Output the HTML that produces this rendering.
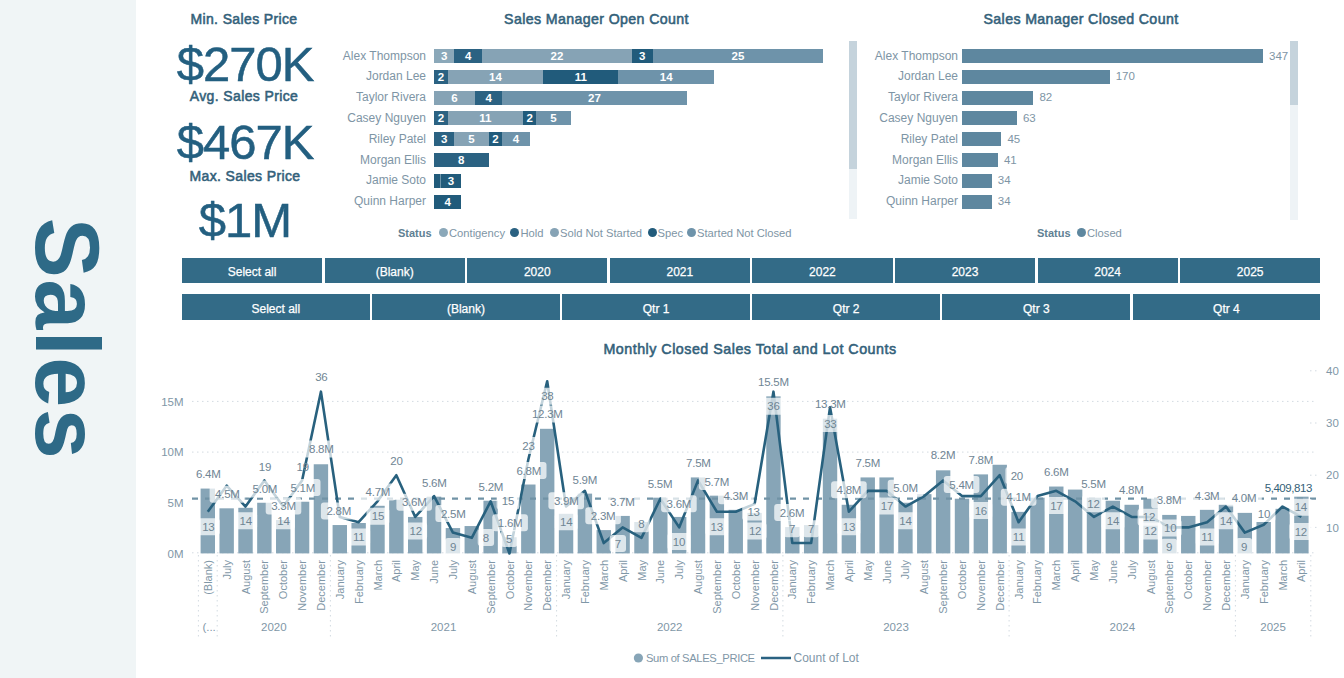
<!DOCTYPE html>
<html><head><meta charset="utf-8"><style>
html,body{margin:0;padding:0;}
body{width:1344px;height:678px;position:relative;overflow:hidden;background:#fff;font-family:'Liberation Sans',sans-serif;}
div{box-sizing:border-box}
</style></head><body>
<div style="position:absolute;left:0;top:0;width:136px;height:678px;background:#f0f5f6"></div><div style="position:absolute;left:17.3px;top:219px;width:100px;height:240px;"><div style="position:absolute;left:50%;top:50%;transform:translate(-50%,-50%) rotate(90deg);font-size:90px;font-weight:bold;color:#2e6a87;letter-spacing:1.5px;line-height:1;white-space:nowrap">Sales</div></div><div style="position:absolute;left:-56px;width:600px;top:12.37px;text-align:center;font-size:14px;color:#33617a;font-weight:normal;white-space:nowrap;line-height:1;letter-spacing:0.37px;-webkit-text-stroke:0.55px #33617a;">Min. Sales Price</div><div style="position:absolute;left:-55px;width:600px;top:40.01px;text-align:center;font-size:49px;color:#235f80;font-weight:normal;white-space:nowrap;line-height:1;letter-spacing:-1px;-webkit-text-stroke:0.5px #235f80;">$270K</div><div style="position:absolute;left:-56px;width:600px;top:89.37px;text-align:center;font-size:14px;color:#33617a;font-weight:normal;white-space:nowrap;line-height:1;letter-spacing:0.37px;-webkit-text-stroke:0.55px #33617a;">Avg. Sales Price</div><div style="position:absolute;left:-55px;width:600px;top:117.61px;text-align:center;font-size:49px;color:#235f80;font-weight:normal;white-space:nowrap;line-height:1;letter-spacing:-1px;-webkit-text-stroke:0.5px #235f80;">$467K</div><div style="position:absolute;left:-55px;width:600px;top:168.67px;text-align:center;font-size:14px;color:#33617a;font-weight:normal;white-space:nowrap;line-height:1;letter-spacing:0.37px;-webkit-text-stroke:0.55px #33617a;">Max. Sales Price</div><div style="position:absolute;left:-55px;width:600px;top:196.01px;text-align:center;font-size:49px;color:#235f80;font-weight:normal;white-space:nowrap;line-height:1;letter-spacing:-1px;-webkit-text-stroke:0.5px #235f80;">$1M</div><div style="position:absolute;left:296.5px;width:600px;top:11.65px;text-align:center;font-size:14.2px;color:#33617a;font-weight:normal;white-space:nowrap;line-height:1;letter-spacing:0.37px;-webkit-text-stroke:0.55px #33617a;">Sales Manager Open Count</div><div style="position:absolute;left:781px;width:600px;top:11.65px;text-align:center;font-size:14.2px;color:#33617a;font-weight:normal;white-space:nowrap;line-height:1;letter-spacing:0.37px;-webkit-text-stroke:0.55px #33617a;">Sales Manager Closed Count</div><div style="position:absolute;left:126px;width:300px;top:48.5px;height:15px;line-height:15px;text-align:right;font-size:12px;color:#7e95a5;white-space:nowrap">Alex Thompson</div><div style="position:absolute;left:434.00px;top:49.0px;width:20.49px;height:14px;background:#8ba8b9;color:#fff;font-size:11.5px;font-weight:bold;text-align:center;line-height:15px">3</div><div style="position:absolute;left:454.49px;top:49.0px;width:27.32px;height:14px;background:#2b6282;color:#fff;font-size:11.5px;font-weight:bold;text-align:center;line-height:15px">4</div><div style="position:absolute;left:481.81px;top:49.0px;width:150.26px;height:14px;background:#86a3b5;color:#fff;font-size:11.5px;font-weight:bold;text-align:center;line-height:15px">22</div><div style="position:absolute;left:632.07px;top:49.0px;width:20.49px;height:14px;background:#215b7b;color:#fff;font-size:11.5px;font-weight:bold;text-align:center;line-height:15px">3</div><div style="position:absolute;left:652.56px;top:49.0px;width:170.75px;height:14px;background:#6e93aa;color:#fff;font-size:11.5px;font-weight:bold;text-align:center;line-height:15px">25</div><div style="position:absolute;left:126px;width:300px;top:69.3px;height:15px;line-height:15px;text-align:right;font-size:12px;color:#7e95a5;white-space:nowrap">Jordan Lee</div><div style="position:absolute;left:434.00px;top:69.8px;width:13.66px;height:14px;background:#2b6282;color:#fff;font-size:11.5px;font-weight:bold;text-align:center;line-height:15px">2</div><div style="position:absolute;left:447.66px;top:69.8px;width:95.62px;height:14px;background:#86a3b5;color:#fff;font-size:11.5px;font-weight:bold;text-align:center;line-height:15px">14</div><div style="position:absolute;left:543.28px;top:69.8px;width:75.13px;height:14px;background:#215b7b;color:#fff;font-size:11.5px;font-weight:bold;text-align:center;line-height:15px">11</div><div style="position:absolute;left:618.41px;top:69.8px;width:95.62px;height:14px;background:#6e93aa;color:#fff;font-size:11.5px;font-weight:bold;text-align:center;line-height:15px">14</div><div style="position:absolute;left:126px;width:300px;top:90.0px;height:15px;line-height:15px;text-align:right;font-size:12px;color:#7e95a5;white-space:nowrap">Taylor Rivera</div><div style="position:absolute;left:434.00px;top:90.5px;width:40.98px;height:14px;background:#86a3b5;color:#fff;font-size:11.5px;font-weight:bold;text-align:center;line-height:15px">6</div><div style="position:absolute;left:474.98px;top:90.5px;width:27.32px;height:14px;background:#2b6282;color:#fff;font-size:11.5px;font-weight:bold;text-align:center;line-height:15px">4</div><div style="position:absolute;left:502.30px;top:90.5px;width:184.41px;height:14px;background:#6e93aa;color:#fff;font-size:11.5px;font-weight:bold;text-align:center;line-height:15px">27</div><div style="position:absolute;left:126px;width:300px;top:110.8px;height:15px;line-height:15px;text-align:right;font-size:12px;color:#7e95a5;white-space:nowrap">Casey Nguyen</div><div style="position:absolute;left:434.00px;top:111.3px;width:13.66px;height:14px;background:#2b6282;color:#fff;font-size:11.5px;font-weight:bold;text-align:center;line-height:15px">2</div><div style="position:absolute;left:447.66px;top:111.3px;width:75.13px;height:14px;background:#86a3b5;color:#fff;font-size:11.5px;font-weight:bold;text-align:center;line-height:15px">11</div><div style="position:absolute;left:522.79px;top:111.3px;width:13.66px;height:14px;background:#215b7b;color:#fff;font-size:11.5px;font-weight:bold;text-align:center;line-height:15px">2</div><div style="position:absolute;left:536.45px;top:111.3px;width:34.15px;height:14px;background:#6e93aa;color:#fff;font-size:11.5px;font-weight:bold;text-align:center;line-height:15px">5</div><div style="position:absolute;left:126px;width:300px;top:131.7px;height:15px;line-height:15px;text-align:right;font-size:12px;color:#7e95a5;white-space:nowrap">Riley Patel</div><div style="position:absolute;left:434.00px;top:132.2px;width:20.49px;height:14px;background:#2b6282;color:#fff;font-size:11.5px;font-weight:bold;text-align:center;line-height:15px">3</div><div style="position:absolute;left:454.49px;top:132.2px;width:34.15px;height:14px;background:#86a3b5;color:#fff;font-size:11.5px;font-weight:bold;text-align:center;line-height:15px">5</div><div style="position:absolute;left:488.64px;top:132.2px;width:13.66px;height:14px;background:#215b7b;color:#fff;font-size:11.5px;font-weight:bold;text-align:center;line-height:15px">2</div><div style="position:absolute;left:502.30px;top:132.2px;width:27.32px;height:14px;background:#6e93aa;color:#fff;font-size:11.5px;font-weight:bold;text-align:center;line-height:15px">4</div><div style="position:absolute;left:126px;width:300px;top:152.6px;height:15px;line-height:15px;text-align:right;font-size:12px;color:#7e95a5;white-space:nowrap">Morgan Ellis</div><div style="position:absolute;left:434.00px;top:153.1px;width:54.64px;height:14px;background:#2b6282;color:#fff;font-size:11.5px;font-weight:bold;text-align:center;line-height:15px">8</div><div style="position:absolute;left:126px;width:300px;top:173.4px;height:15px;line-height:15px;text-align:right;font-size:12px;color:#7e95a5;white-space:nowrap">Jamie Soto</div><div style="position:absolute;left:434.00px;top:173.9px;width:6.83px;height:14px;background:#215b7b;color:#fff;font-size:11.5px;font-weight:bold;text-align:center;line-height:15px"></div><div style="position:absolute;left:440.83px;top:173.9px;width:20.49px;height:14px;background:#215b7b;color:#fff;font-size:11.5px;font-weight:bold;text-align:center;line-height:15px">3</div><div style="position:absolute;left:440.33px;top:173.9px;width:1px;height:14px;background:#6d95ab"></div><div style="position:absolute;left:126px;width:300px;top:194.2px;height:15px;line-height:15px;text-align:right;font-size:12px;color:#7e95a5;white-space:nowrap">Quinn Harper</div><div style="position:absolute;left:434.00px;top:194.7px;width:27.32px;height:14px;background:#215b7b;color:#fff;font-size:11.5px;font-weight:bold;text-align:center;line-height:15px">4</div><div style="position:absolute;left:398px;top:225.7px;height:14px;line-height:14px;font-size:11px;color:#5f7f93;font-weight:bold;white-space:nowrap">Status</div><div style="position:absolute;left:439px;top:228.2px;width:9px;height:9px;border-radius:50%;background:#8ba8b9"></div><div style="position:absolute;left:449px;top:225.7px;height:14px;line-height:14px;font-size:11.2px;color:#7e95a5;font-weight:normal;white-space:nowrap">Contigency</div><div style="position:absolute;left:510px;top:228.2px;width:9px;height:9px;border-radius:50%;background:#2b6282"></div><div style="position:absolute;left:520.5px;top:225.7px;height:14px;line-height:14px;font-size:11.2px;color:#7e95a5;font-weight:normal;white-space:nowrap">Hold</div><div style="position:absolute;left:549.5px;top:228.2px;width:9px;height:9px;border-radius:50%;background:#86a3b5"></div><div style="position:absolute;left:560px;top:225.7px;height:14px;line-height:14px;font-size:11.2px;color:#7e95a5;font-weight:normal;white-space:nowrap">Sold Not Started</div><div style="position:absolute;left:647.5px;top:228.2px;width:9px;height:9px;border-radius:50%;background:#215b7b"></div><div style="position:absolute;left:657.5px;top:225.7px;height:14px;line-height:14px;font-size:11.2px;color:#7e95a5;font-weight:normal;white-space:nowrap">Spec</div><div style="position:absolute;left:686.5px;top:228.2px;width:9px;height:9px;border-radius:50%;background:#6e93aa"></div><div style="position:absolute;left:697px;top:225.7px;height:14px;line-height:14px;font-size:11.2px;color:#7e95a5;font-weight:normal;white-space:nowrap">Started Not Closed</div><div style="position:absolute;left:849px;top:41px;width:8px;height:178px;background:#eef3f6"></div><div style="position:absolute;left:849px;top:41px;width:8px;height:128px;background:#c5d3dc"></div><div style="position:absolute;left:658px;width:300px;top:48.5px;height:15px;line-height:15px;text-align:right;font-size:12px;color:#7e95a5;white-space:nowrap">Alex Thompson</div><div style="position:absolute;left:962.4px;top:49.0px;width:300.61px;height:14px;background:#5e879f"></div><div style="position:absolute;left:1269.01px;top:48.5px;height:15px;line-height:15px;font-size:11.5px;color:#7e95a5;white-space:nowrap">347</div><div style="position:absolute;left:658px;width:300px;top:69.3px;height:15px;line-height:15px;text-align:right;font-size:12px;color:#7e95a5;white-space:nowrap">Jordan Lee</div><div style="position:absolute;left:962.4px;top:69.8px;width:147.27px;height:14px;background:#5e879f"></div><div style="position:absolute;left:1115.67px;top:69.3px;height:15px;line-height:15px;font-size:11.5px;color:#7e95a5;white-space:nowrap">170</div><div style="position:absolute;left:658px;width:300px;top:90.0px;height:15px;line-height:15px;text-align:right;font-size:12px;color:#7e95a5;white-space:nowrap">Taylor Rivera</div><div style="position:absolute;left:962.4px;top:90.5px;width:71.04px;height:14px;background:#5e879f"></div><div style="position:absolute;left:1039.44px;top:90.0px;height:15px;line-height:15px;font-size:11.5px;color:#7e95a5;white-space:nowrap">82</div><div style="position:absolute;left:658px;width:300px;top:110.8px;height:15px;line-height:15px;text-align:right;font-size:12px;color:#7e95a5;white-space:nowrap">Casey Nguyen</div><div style="position:absolute;left:962.4px;top:111.3px;width:54.58px;height:14px;background:#5e879f"></div><div style="position:absolute;left:1022.98px;top:110.8px;height:15px;line-height:15px;font-size:11.5px;color:#7e95a5;white-space:nowrap">63</div><div style="position:absolute;left:658px;width:300px;top:131.7px;height:15px;line-height:15px;text-align:right;font-size:12px;color:#7e95a5;white-space:nowrap">Riley Patel</div><div style="position:absolute;left:962.4px;top:132.2px;width:38.98px;height:14px;background:#5e879f"></div><div style="position:absolute;left:1007.38px;top:131.7px;height:15px;line-height:15px;font-size:11.5px;color:#7e95a5;white-space:nowrap">45</div><div style="position:absolute;left:658px;width:300px;top:152.6px;height:15px;line-height:15px;text-align:right;font-size:12px;color:#7e95a5;white-space:nowrap">Morgan Ellis</div><div style="position:absolute;left:962.4px;top:153.1px;width:35.52px;height:14px;background:#5e879f"></div><div style="position:absolute;left:1003.92px;top:152.6px;height:15px;line-height:15px;font-size:11.5px;color:#7e95a5;white-space:nowrap">41</div><div style="position:absolute;left:658px;width:300px;top:173.4px;height:15px;line-height:15px;text-align:right;font-size:12px;color:#7e95a5;white-space:nowrap">Jamie Soto</div><div style="position:absolute;left:962.4px;top:173.9px;width:29.45px;height:14px;background:#5e879f"></div><div style="position:absolute;left:997.85px;top:173.4px;height:15px;line-height:15px;font-size:11.5px;color:#7e95a5;white-space:nowrap">34</div><div style="position:absolute;left:658px;width:300px;top:194.2px;height:15px;line-height:15px;text-align:right;font-size:12px;color:#7e95a5;white-space:nowrap">Quinn Harper</div><div style="position:absolute;left:962.4px;top:194.7px;width:29.45px;height:14px;background:#5e879f"></div><div style="position:absolute;left:997.85px;top:194.2px;height:15px;line-height:15px;font-size:11.5px;color:#7e95a5;white-space:nowrap">34</div><div style="position:absolute;left:1290px;top:41px;width:8px;height:179px;background:#eef3f6"></div><div style="position:absolute;left:1290px;top:41px;width:8px;height:64px;background:#c5d3dc"></div><div style="position:absolute;left:1037px;top:225.7px;height:14px;line-height:14px;font-size:11px;color:#5f7f93;font-weight:bold;white-space:nowrap">Status</div><div style="position:absolute;left:1077px;top:228.2px;width:9px;height:9px;border-radius:50%;background:#5e879f"></div><div style="position:absolute;left:1087px;top:225.7px;height:14px;line-height:14px;font-size:11.2px;color:#7e95a5;font-weight:normal;white-space:nowrap">Closed</div><div style="position:absolute;left:182.00px;top:258.2px;width:140.19px;height:24.8px;background:#336b87;color:#fff;font-size:12px;text-align:center;line-height:24.8px;padding-top:2.2px;white-space:nowrap;-webkit-text-stroke:0.25px #fff">Select all</div><div style="position:absolute;left:324.59px;top:258.2px;width:140.19px;height:24.8px;background:#336b87;color:#fff;font-size:12px;text-align:center;line-height:24.8px;padding-top:2.2px;white-space:nowrap;-webkit-text-stroke:0.25px #fff">(Blank)</div><div style="position:absolute;left:467.18px;top:258.2px;width:140.19px;height:24.8px;background:#336b87;color:#fff;font-size:12px;text-align:center;line-height:24.8px;padding-top:2.2px;white-space:nowrap;-webkit-text-stroke:0.25px #fff">2020</div><div style="position:absolute;left:609.76px;top:258.2px;width:140.19px;height:24.8px;background:#336b87;color:#fff;font-size:12px;text-align:center;line-height:24.8px;padding-top:2.2px;white-space:nowrap;-webkit-text-stroke:0.25px #fff">2021</div><div style="position:absolute;left:752.35px;top:258.2px;width:140.19px;height:24.8px;background:#336b87;color:#fff;font-size:12px;text-align:center;line-height:24.8px;padding-top:2.2px;white-space:nowrap;-webkit-text-stroke:0.25px #fff">2022</div><div style="position:absolute;left:894.94px;top:258.2px;width:140.19px;height:24.8px;background:#336b87;color:#fff;font-size:12px;text-align:center;line-height:24.8px;padding-top:2.2px;white-space:nowrap;-webkit-text-stroke:0.25px #fff">2023</div><div style="position:absolute;left:1037.53px;top:258.2px;width:140.19px;height:24.8px;background:#336b87;color:#fff;font-size:12px;text-align:center;line-height:24.8px;padding-top:2.2px;white-space:nowrap;-webkit-text-stroke:0.25px #fff">2024</div><div style="position:absolute;left:1180.11px;top:258.2px;width:140.19px;height:24.8px;background:#336b87;color:#fff;font-size:12px;text-align:center;line-height:24.8px;padding-top:2.2px;white-space:nowrap;-webkit-text-stroke:0.25px #fff">2025</div><div style="position:absolute;left:182.00px;top:294px;width:187.72px;height:25.6px;background:#336b87;color:#fff;font-size:12px;text-align:center;line-height:25.6px;padding-top:2.8px;white-space:nowrap;-webkit-text-stroke:0.25px #fff">Select all</div><div style="position:absolute;left:372.12px;top:294px;width:187.72px;height:25.6px;background:#336b87;color:#fff;font-size:12px;text-align:center;line-height:25.6px;padding-top:2.8px;white-space:nowrap;-webkit-text-stroke:0.25px #fff">(Blank)</div><div style="position:absolute;left:562.23px;top:294px;width:187.72px;height:25.6px;background:#336b87;color:#fff;font-size:12px;text-align:center;line-height:25.6px;padding-top:2.8px;white-space:nowrap;-webkit-text-stroke:0.25px #fff">Qtr 1</div><div style="position:absolute;left:752.35px;top:294px;width:187.72px;height:25.6px;background:#336b87;color:#fff;font-size:12px;text-align:center;line-height:25.6px;padding-top:2.8px;white-space:nowrap;-webkit-text-stroke:0.25px #fff">Qtr 2</div><div style="position:absolute;left:942.47px;top:294px;width:187.72px;height:25.6px;background:#336b87;color:#fff;font-size:12px;text-align:center;line-height:25.6px;padding-top:2.8px;white-space:nowrap;-webkit-text-stroke:0.25px #fff">Qtr 3</div><div style="position:absolute;left:1132.58px;top:294px;width:187.72px;height:25.6px;background:#336b87;color:#fff;font-size:12px;text-align:center;line-height:25.6px;padding-top:2.8px;white-space:nowrap;-webkit-text-stroke:0.25px #fff">Qtr 4</div><div style="position:absolute;left:450px;width:600px;top:341.73px;text-align:center;font-size:14.3px;color:#33617a;font-weight:normal;white-space:nowrap;line-height:1;letter-spacing:0.49px;-webkit-text-stroke:0.55px #33617a;">Monthly Closed Sales Total and Lot Counts</div><svg style="position:absolute;left:0;top:0" width="1344" height="678" font-family="Liberation Sans, sans-serif"><line x1="192" y1="401.4" x2="1316" y2="401.4" stroke="#d3dbe1" stroke-width="1" stroke-dasharray="1.5 3.5"/><line x1="192" y1="452.1" x2="1316" y2="452.1" stroke="#d3dbe1" stroke-width="1" stroke-dasharray="1.5 3.5"/><line x1="192" y1="552.8" x2="1316" y2="552.8" stroke="#d3dbe1" stroke-width="1" stroke-dasharray="1.5 3.5"/><line x1="1310" y1="370.8" x2="1320" y2="370.8" stroke="#d3dbe1" stroke-width="1" stroke-dasharray="1.5 3.5"/><line x1="1310" y1="423.0" x2="1320" y2="423.0" stroke="#d3dbe1" stroke-width="1" stroke-dasharray="1.5 3.5"/><line x1="1310" y1="475.2" x2="1320" y2="475.2" stroke="#d3dbe1" stroke-width="1" stroke-dasharray="1.5 3.5"/><line x1="1310" y1="527.4" x2="1320" y2="527.4" stroke="#d3dbe1" stroke-width="1" stroke-dasharray="1.5 3.5"/><rect x="200.60" y="488.57" width="14.4" height="64.83" fill="#87a5b7"/><rect x="219.46" y="508.32" width="14.4" height="45.08" fill="#87a5b7"/><rect x="238.31" y="507.81" width="14.4" height="45.59" fill="#87a5b7"/><rect x="257.17" y="502.75" width="14.4" height="50.65" fill="#87a5b7"/><rect x="276.02" y="519.97" width="14.4" height="33.43" fill="#87a5b7"/><rect x="294.88" y="501.74" width="14.4" height="51.66" fill="#87a5b7"/><rect x="313.73" y="464.26" width="14.4" height="89.14" fill="#87a5b7"/><rect x="332.59" y="525.04" width="14.4" height="28.36" fill="#87a5b7"/><rect x="351.44" y="523.01" width="14.4" height="30.39" fill="#87a5b7"/><rect x="370.30" y="505.79" width="14.4" height="47.61" fill="#87a5b7"/><rect x="389.15" y="499.71" width="14.4" height="53.69" fill="#87a5b7"/><rect x="408.01" y="516.93" width="14.4" height="36.47" fill="#87a5b7"/><rect x="426.86" y="496.67" width="14.4" height="56.73" fill="#87a5b7"/><rect x="445.72" y="528.07" width="14.4" height="25.33" fill="#87a5b7"/><rect x="464.57" y="526.05" width="14.4" height="27.35" fill="#87a5b7"/><rect x="483.43" y="500.72" width="14.4" height="52.68" fill="#87a5b7"/><rect x="502.28" y="537.19" width="14.4" height="16.21" fill="#87a5b7"/><rect x="521.13" y="484.52" width="14.4" height="68.88" fill="#87a5b7"/><rect x="539.99" y="428.80" width="14.4" height="124.60" fill="#87a5b7"/><rect x="558.85" y="513.89" width="14.4" height="39.51" fill="#87a5b7"/><rect x="577.70" y="493.63" width="14.4" height="59.77" fill="#87a5b7"/><rect x="596.55" y="530.10" width="14.4" height="23.30" fill="#87a5b7"/><rect x="615.41" y="515.92" width="14.4" height="37.48" fill="#87a5b7"/><rect x="634.26" y="522.00" width="14.4" height="31.40" fill="#87a5b7"/><rect x="653.12" y="497.68" width="14.4" height="55.72" fill="#87a5b7"/><rect x="671.97" y="516.93" width="14.4" height="36.47" fill="#87a5b7"/><rect x="690.83" y="477.42" width="14.4" height="75.98" fill="#87a5b7"/><rect x="709.68" y="495.66" width="14.4" height="57.74" fill="#87a5b7"/><rect x="728.54" y="509.84" width="14.4" height="43.56" fill="#87a5b7"/><rect x="747.39" y="512.88" width="14.4" height="40.52" fill="#87a5b7"/><rect x="766.25" y="396.38" width="14.4" height="157.02" fill="#87a5b7"/><rect x="785.11" y="527.06" width="14.4" height="26.34" fill="#87a5b7"/><rect x="803.96" y="525.04" width="14.4" height="28.36" fill="#87a5b7"/><rect x="822.82" y="418.67" width="14.4" height="134.73" fill="#87a5b7"/><rect x="841.67" y="504.78" width="14.4" height="48.62" fill="#87a5b7"/><rect x="860.53" y="477.42" width="14.4" height="75.98" fill="#87a5b7"/><rect x="879.38" y="477.42" width="14.4" height="75.98" fill="#87a5b7"/><rect x="898.23" y="502.75" width="14.4" height="50.65" fill="#87a5b7"/><rect x="917.09" y="494.14" width="14.4" height="59.26" fill="#87a5b7"/><rect x="935.94" y="470.33" width="14.4" height="83.07" fill="#87a5b7"/><rect x="954.80" y="498.70" width="14.4" height="54.70" fill="#87a5b7"/><rect x="973.65" y="474.39" width="14.4" height="79.01" fill="#87a5b7"/><rect x="992.51" y="464.76" width="14.4" height="88.64" fill="#87a5b7"/><rect x="1011.37" y="511.87" width="14.4" height="41.53" fill="#87a5b7"/><rect x="1030.22" y="497.68" width="14.4" height="55.72" fill="#87a5b7"/><rect x="1049.08" y="486.54" width="14.4" height="66.86" fill="#87a5b7"/><rect x="1067.93" y="489.58" width="14.4" height="63.82" fill="#87a5b7"/><rect x="1086.79" y="497.68" width="14.4" height="55.72" fill="#87a5b7"/><rect x="1105.64" y="500.72" width="14.4" height="52.68" fill="#87a5b7"/><rect x="1124.49" y="504.78" width="14.4" height="48.62" fill="#87a5b7"/><rect x="1143.35" y="498.70" width="14.4" height="54.70" fill="#87a5b7"/><rect x="1162.20" y="514.91" width="14.4" height="38.49" fill="#87a5b7"/><rect x="1181.06" y="515.92" width="14.4" height="37.48" fill="#87a5b7"/><rect x="1199.91" y="509.84" width="14.4" height="43.56" fill="#87a5b7"/><rect x="1218.77" y="504.78" width="14.4" height="48.62" fill="#87a5b7"/><rect x="1237.62" y="512.88" width="14.4" height="40.52" fill="#87a5b7"/><rect x="1256.48" y="522.00" width="14.4" height="31.40" fill="#87a5b7"/><rect x="1275.34" y="508.83" width="14.4" height="44.57" fill="#87a5b7"/><rect x="1294.19" y="496.67" width="14.4" height="56.73" fill="#87a5b7"/><line x1="192" y1="498.6" x2="1316" y2="498.6" stroke="#7193a6" stroke-width="2.3" stroke-dasharray="6 7"/><polyline points="207.80,511.74 226.66,485.64 245.51,506.52 264.37,480.42 283.22,506.52 302.08,480.42 320.93,391.68 339.79,516.96 358.64,522.18 377.50,501.30 396.35,475.20 415.21,516.96 434.06,496.08 452.92,532.62 471.77,537.84 490.62,501.30 509.48,553.50 528.34,459.54 547.19,381.24 566.05,506.52 584.90,490.86 603.75,543.06 622.61,527.40 641.47,537.84 660.32,498.69 679.17,527.40 698.03,480.42 716.88,511.74 735.74,511.74 754.60,503.91 773.45,391.68 792.31,543.06 811.16,543.06 830.02,407.34 848.87,511.74 867.73,490.86 886.58,490.86 905.43,506.52 924.29,496.08 943.14,480.42 962.00,496.08 980.86,496.08 999.71,475.20 1018.57,522.18 1037.42,496.08 1056.28,490.86 1075.13,501.30 1093.99,516.96 1112.84,506.52 1131.69,516.96 1150.55,516.96 1169.40,527.40 1188.26,527.40 1207.12,522.18 1225.97,506.52 1244.83,532.62 1263.68,524.79 1282.54,506.52 1301.39,516.96" fill="none" stroke="#28617e" stroke-width="2.6" stroke-linejoin="round"/><rect x="209.6" y="485.7" width="35.6" height="17" rx="3" fill="#ffffff" fill-opacity="0.72"/><rect x="247.1" y="480.4" width="35.6" height="17" rx="3" fill="#ffffff" fill-opacity="0.72"/><rect x="265.7" y="497.5" width="35.6" height="17" rx="3" fill="#ffffff" fill-opacity="0.72"/><rect x="284.9" y="478.9" width="35.6" height="17" rx="3" fill="#ffffff" fill-opacity="0.72"/><rect x="303.5" y="440.6" width="35.6" height="17" rx="3" fill="#ffffff" fill-opacity="0.72"/><rect x="320.9" y="502.5" width="35.6" height="17" rx="3" fill="#ffffff" fill-opacity="0.72"/><rect x="196.9" y="518.2" width="22.8" height="17" rx="3" fill="#ffffff" fill-opacity="0.72"/><rect x="234.3" y="512.3" width="22.8" height="17" rx="3" fill="#ffffff" fill-opacity="0.72"/><rect x="272.1" y="512.3" width="22.8" height="17" rx="3" fill="#ffffff" fill-opacity="0.72"/><rect x="347.3" y="528.5" width="22.8" height="17" rx="3" fill="#ffffff" fill-opacity="0.72"/><rect x="360.1" y="483.4" width="35.6" height="17" rx="3" fill="#ffffff" fill-opacity="0.72"/><rect x="366.5" y="507.8" width="22.8" height="17" rx="3" fill="#ffffff" fill-opacity="0.72"/><rect x="396.4" y="493.7" width="35.6" height="17" rx="3" fill="#ffffff" fill-opacity="0.72"/><rect x="404.3" y="522.6" width="22.8" height="17" rx="3" fill="#ffffff" fill-opacity="0.72"/><rect x="435.4" y="504.9" width="35.6" height="17" rx="3" fill="#ffffff" fill-opacity="0.72"/><rect x="445.0" y="537.9" width="16.4" height="17" rx="3" fill="#ffffff" fill-opacity="0.72"/><rect x="496.6" y="492.5" width="22.8" height="17" rx="3" fill="#ffffff" fill-opacity="0.72"/><rect x="477.7" y="529.1" width="16.4" height="17" rx="3" fill="#ffffff" fill-opacity="0.72"/><rect x="492.3" y="514.3" width="35.6" height="17" rx="3" fill="#ffffff" fill-opacity="0.72"/><rect x="501.0" y="530.0" width="16.4" height="17" rx="3" fill="#ffffff" fill-opacity="0.72"/><rect x="510.9" y="462.1" width="35.6" height="17" rx="3" fill="#ffffff" fill-opacity="0.72"/><rect x="517.0" y="437.0" width="22.8" height="17" rx="3" fill="#ffffff" fill-opacity="0.72"/><rect x="535.9" y="387.8" width="22.8" height="17" rx="3" fill="#ffffff" fill-opacity="0.72"/><rect x="526.3" y="405.5" width="42.0" height="17" rx="3" fill="#ffffff" fill-opacity="0.72"/><rect x="548.4" y="492.2" width="35.6" height="17" rx="3" fill="#ffffff" fill-opacity="0.72"/><rect x="554.8" y="513.2" width="22.8" height="17" rx="3" fill="#ffffff" fill-opacity="0.72"/><rect x="585.3" y="507.3" width="35.6" height="17" rx="3" fill="#ffffff" fill-opacity="0.72"/><rect x="604.5" y="493.1" width="35.6" height="17" rx="3" fill="#ffffff" fill-opacity="0.72"/><rect x="609.6" y="535.0" width="16.4" height="17" rx="3" fill="#ffffff" fill-opacity="0.72"/><rect x="633.2" y="515.2" width="16.4" height="17" rx="3" fill="#ffffff" fill-opacity="0.72"/><rect x="661.1" y="495.2" width="35.6" height="17" rx="3" fill="#ffffff" fill-opacity="0.72"/><rect x="667.5" y="532.9" width="22.8" height="17" rx="3" fill="#ffffff" fill-opacity="0.72"/><rect x="698.9" y="473.0" width="35.6" height="17" rx="3" fill="#ffffff" fill-opacity="0.72"/><rect x="705.3" y="518.2" width="22.8" height="17" rx="3" fill="#ffffff" fill-opacity="0.72"/><rect x="718.0" y="487.2" width="35.6" height="17" rx="3" fill="#ffffff" fill-opacity="0.72"/><rect x="742.2" y="503.4" width="22.8" height="17" rx="3" fill="#ffffff" fill-opacity="0.72"/><rect x="743.7" y="522.6" width="22.8" height="17" rx="3" fill="#ffffff" fill-opacity="0.72"/><rect x="762.0" y="397.8" width="22.8" height="17" rx="3" fill="#ffffff" fill-opacity="0.72"/><rect x="774.2" y="504.0" width="35.6" height="17" rx="3" fill="#ffffff" fill-opacity="0.72"/><rect x="783.8" y="520.2" width="16.4" height="17" rx="3" fill="#ffffff" fill-opacity="0.72"/><rect x="802.9" y="520.2" width="16.4" height="17" rx="3" fill="#ffffff" fill-opacity="0.72"/><rect x="818.9" y="414.9" width="22.8" height="17" rx="3" fill="#ffffff" fill-opacity="0.72"/><rect x="831.1" y="481.3" width="35.6" height="17" rx="3" fill="#ffffff" fill-opacity="0.72"/><rect x="837.5" y="518.2" width="22.8" height="17" rx="3" fill="#ffffff" fill-opacity="0.72"/><rect x="875.5" y="497.5" width="22.8" height="17" rx="3" fill="#ffffff" fill-opacity="0.72"/><rect x="887.7" y="479.8" width="35.6" height="17" rx="3" fill="#ffffff" fill-opacity="0.72"/><rect x="894.1" y="512.3" width="22.8" height="17" rx="3" fill="#ffffff" fill-opacity="0.72"/><rect x="943.8" y="476.0" width="35.6" height="17" rx="3" fill="#ffffff" fill-opacity="0.72"/><rect x="969.4" y="501.9" width="22.8" height="17" rx="3" fill="#ffffff" fill-opacity="0.72"/><rect x="1005.4" y="467.1" width="22.8" height="17" rx="3" fill="#ffffff" fill-opacity="0.72"/><rect x="1000.8" y="488.7" width="35.6" height="17" rx="3" fill="#ffffff" fill-opacity="0.72"/><rect x="1007.2" y="528.5" width="22.8" height="17" rx="3" fill="#ffffff" fill-opacity="0.72"/><rect x="1044.9" y="496.9" width="22.8" height="17" rx="3" fill="#ffffff" fill-opacity="0.72"/><rect x="1082.1" y="495.2" width="22.8" height="17" rx="3" fill="#ffffff" fill-opacity="0.72"/><rect x="1101.6" y="512.3" width="22.8" height="17" rx="3" fill="#ffffff" fill-opacity="0.72"/><rect x="1137.6" y="508.7" width="22.8" height="17" rx="3" fill="#ffffff" fill-opacity="0.72"/><rect x="1139.1" y="522.6" width="22.8" height="17" rx="3" fill="#ffffff" fill-opacity="0.72"/><rect x="1151.2" y="491.6" width="35.6" height="17" rx="3" fill="#ffffff" fill-opacity="0.72"/><rect x="1158.8" y="519.6" width="22.8" height="17" rx="3" fill="#ffffff" fill-opacity="0.72"/><rect x="1160.8" y="538.8" width="16.4" height="17" rx="3" fill="#ffffff" fill-opacity="0.72"/><rect x="1195.7" y="528.5" width="22.8" height="17" rx="3" fill="#ffffff" fill-opacity="0.72"/><rect x="1189.3" y="487.2" width="35.6" height="17" rx="3" fill="#ffffff" fill-opacity="0.72"/><rect x="1214.6" y="512.3" width="22.8" height="17" rx="3" fill="#ffffff" fill-opacity="0.72"/><rect x="1226.2" y="489.6" width="35.6" height="17" rx="3" fill="#ffffff" fill-opacity="0.72"/><rect x="1235.8" y="537.9" width="16.4" height="17" rx="3" fill="#ffffff" fill-opacity="0.72"/><rect x="1252.6" y="504.9" width="22.8" height="17" rx="3" fill="#ffffff" fill-opacity="0.72"/><rect x="1289.4" y="498.7" width="22.8" height="17" rx="3" fill="#ffffff" fill-opacity="0.72"/><rect x="1289.4" y="523.0" width="22.8" height="17" rx="3" fill="#ffffff" fill-opacity="0.72"/><text x="208.3" y="477.7" text-anchor="middle" font-size="11.5" fill="#6f8594" letter-spacing="-0.25">6.4M</text><text x="227.4" y="498.3" text-anchor="middle" font-size="11.5" fill="#6f8594" letter-spacing="-0.25">4.5M</text><text x="264.9" y="470.9" text-anchor="middle" font-size="11.5" fill="#6f8594" letter-spacing="-0.25">19</text><text x="264.9" y="493.0" text-anchor="middle" font-size="11.5" fill="#6f8594" letter-spacing="-0.25">5.0M</text><text x="283.5" y="510.1" text-anchor="middle" font-size="11.5" fill="#6f8594" letter-spacing="-0.25">3.3M</text><text x="302.7" y="470.9" text-anchor="middle" font-size="11.5" fill="#6f8594" letter-spacing="-0.25">19</text><text x="302.7" y="491.5" text-anchor="middle" font-size="11.5" fill="#6f8594" letter-spacing="-0.25">5.1M</text><text x="321.3" y="381.2" text-anchor="middle" font-size="11.5" fill="#6f8594" letter-spacing="-0.25">36</text><text x="321.3" y="453.2" text-anchor="middle" font-size="11.5" fill="#6f8594" letter-spacing="-0.25">8.8M</text><text x="338.7" y="515.1" text-anchor="middle" font-size="11.5" fill="#6f8594" letter-spacing="-0.25">2.8M</text><text x="208.3" y="530.8" text-anchor="middle" font-size="11.5" fill="#6f8594" letter-spacing="-0.25">13</text><text x="245.7" y="524.9" text-anchor="middle" font-size="11.5" fill="#6f8594" letter-spacing="-0.25">14</text><text x="283.5" y="524.9" text-anchor="middle" font-size="11.5" fill="#6f8594" letter-spacing="-0.25">14</text><text x="358.7" y="541.1" text-anchor="middle" font-size="11.5" fill="#6f8594" letter-spacing="-0.25">11</text><text x="377.9" y="496.0" text-anchor="middle" font-size="11.5" fill="#6f8594" letter-spacing="-0.25">4.7M</text><text x="377.9" y="520.4" text-anchor="middle" font-size="11.5" fill="#6f8594" letter-spacing="-0.25">15</text><text x="396.5" y="465.0" text-anchor="middle" font-size="11.5" fill="#6f8594" letter-spacing="-0.25">20</text><text x="414.2" y="506.3" text-anchor="middle" font-size="11.5" fill="#6f8594" letter-spacing="-0.25">3.6M</text><text x="415.7" y="535.2" text-anchor="middle" font-size="11.5" fill="#6f8594" letter-spacing="-0.25">12</text><text x="434.3" y="486.5" text-anchor="middle" font-size="11.5" fill="#6f8594" letter-spacing="-0.25">5.6M</text><text x="453.2" y="517.5" text-anchor="middle" font-size="11.5" fill="#6f8594" letter-spacing="-0.25">2.5M</text><text x="453.2" y="550.5" text-anchor="middle" font-size="11.5" fill="#6f8594" letter-spacing="-0.25">9</text><text x="490.9" y="490.9" text-anchor="middle" font-size="11.5" fill="#6f8594" letter-spacing="-0.25">5.2M</text><text x="508.0" y="505.1" text-anchor="middle" font-size="11.5" fill="#6f8594" letter-spacing="-0.25">15</text><text x="485.9" y="541.7" text-anchor="middle" font-size="11.5" fill="#6f8594" letter-spacing="-0.25">8</text><text x="510.1" y="526.9" text-anchor="middle" font-size="11.5" fill="#6f8594" letter-spacing="-0.25">1.6M</text><text x="509.2" y="542.6" text-anchor="middle" font-size="11.5" fill="#6f8594" letter-spacing="-0.25">5</text><text x="528.7" y="474.7" text-anchor="middle" font-size="11.5" fill="#6f8594" letter-spacing="-0.25">6.8M</text><text x="528.4" y="449.6" text-anchor="middle" font-size="11.5" fill="#6f8594" letter-spacing="-0.25">23</text><text x="547.3" y="400.4" text-anchor="middle" font-size="11.5" fill="#6f8594" letter-spacing="-0.25">38</text><text x="547.3" y="418.1" text-anchor="middle" font-size="11.5" fill="#6f8594" letter-spacing="-0.25">12.3M</text><text x="566.2" y="504.8" text-anchor="middle" font-size="11.5" fill="#6f8594" letter-spacing="-0.25">3.9M</text><text x="566.2" y="525.8" text-anchor="middle" font-size="11.5" fill="#6f8594" letter-spacing="-0.25">14</text><text x="584.8" y="483.6" text-anchor="middle" font-size="11.5" fill="#6f8594" letter-spacing="-0.25">5.9M</text><text x="603.1" y="519.9" text-anchor="middle" font-size="11.5" fill="#6f8594" letter-spacing="-0.25">2.3M</text><text x="622.3" y="505.7" text-anchor="middle" font-size="11.5" fill="#6f8594" letter-spacing="-0.25">3.7M</text><text x="617.8" y="547.6" text-anchor="middle" font-size="11.5" fill="#6f8594" letter-spacing="-0.25">7</text><text x="641.4" y="527.8" text-anchor="middle" font-size="11.5" fill="#6f8594" letter-spacing="-0.25">8</text><text x="660.0" y="488.0" text-anchor="middle" font-size="11.5" fill="#6f8594" letter-spacing="-0.25">5.5M</text><text x="678.9" y="507.8" text-anchor="middle" font-size="11.5" fill="#6f8594" letter-spacing="-0.25">3.6M</text><text x="678.9" y="545.5" text-anchor="middle" font-size="11.5" fill="#6f8594" letter-spacing="-0.25">10</text><text x="698.4" y="467.3" text-anchor="middle" font-size="11.5" fill="#6f8594" letter-spacing="-0.25">7.5M</text><text x="716.7" y="485.6" text-anchor="middle" font-size="11.5" fill="#6f8594" letter-spacing="-0.25">5.7M</text><text x="716.7" y="530.8" text-anchor="middle" font-size="11.5" fill="#6f8594" letter-spacing="-0.25">13</text><text x="735.8" y="499.8" text-anchor="middle" font-size="11.5" fill="#6f8594" letter-spacing="-0.25">4.3M</text><text x="753.6" y="516.0" text-anchor="middle" font-size="11.5" fill="#6f8594" letter-spacing="-0.25">13</text><text x="755.1" y="535.2" text-anchor="middle" font-size="11.5" fill="#6f8594" letter-spacing="-0.25">12</text><text x="773.4" y="385.6" text-anchor="middle" font-size="11.5" fill="#6f8594" letter-spacing="-0.25">15.5M</text><text x="773.4" y="410.4" text-anchor="middle" font-size="11.5" fill="#6f8594" letter-spacing="-0.25">36</text><text x="792.0" y="516.6" text-anchor="middle" font-size="11.5" fill="#6f8594" letter-spacing="-0.25">2.6M</text><text x="792.0" y="532.8" text-anchor="middle" font-size="11.5" fill="#6f8594" letter-spacing="-0.25">7</text><text x="811.1" y="532.8" text-anchor="middle" font-size="11.5" fill="#6f8594" letter-spacing="-0.25">7</text><text x="830.3" y="407.8" text-anchor="middle" font-size="11.5" fill="#6f8594" letter-spacing="-0.25">13.3M</text><text x="830.3" y="427.5" text-anchor="middle" font-size="11.5" fill="#6f8594" letter-spacing="-0.25">33</text><text x="848.9" y="493.9" text-anchor="middle" font-size="11.5" fill="#6f8594" letter-spacing="-0.25">4.8M</text><text x="848.9" y="530.8" text-anchor="middle" font-size="11.5" fill="#6f8594" letter-spacing="-0.25">13</text><text x="867.8" y="467.3" text-anchor="middle" font-size="11.5" fill="#6f8594" letter-spacing="-0.25">7.5M</text><text x="886.9" y="510.1" text-anchor="middle" font-size="11.5" fill="#6f8594" letter-spacing="-0.25">17</text><text x="905.5" y="492.4" text-anchor="middle" font-size="11.5" fill="#6f8594" letter-spacing="-0.25">5.0M</text><text x="905.5" y="524.9" text-anchor="middle" font-size="11.5" fill="#6f8594" letter-spacing="-0.25">14</text><text x="943.0" y="459.4" text-anchor="middle" font-size="11.5" fill="#6f8594" letter-spacing="-0.25">8.2M</text><text x="961.6" y="488.6" text-anchor="middle" font-size="11.5" fill="#6f8594" letter-spacing="-0.25">5.4M</text><text x="980.8" y="464.4" text-anchor="middle" font-size="11.5" fill="#6f8594" letter-spacing="-0.25">7.8M</text><text x="980.8" y="514.5" text-anchor="middle" font-size="11.5" fill="#6f8594" letter-spacing="-0.25">16</text><text x="1016.8" y="479.7" text-anchor="middle" font-size="11.5" fill="#6f8594" letter-spacing="-0.25">20</text><text x="1018.6" y="501.3" text-anchor="middle" font-size="11.5" fill="#6f8594" letter-spacing="-0.25">4.1M</text><text x="1018.6" y="541.1" text-anchor="middle" font-size="11.5" fill="#6f8594" letter-spacing="-0.25">11</text><text x="1056.3" y="476.2" text-anchor="middle" font-size="11.5" fill="#6f8594" letter-spacing="-0.25">6.6M</text><text x="1056.3" y="509.5" text-anchor="middle" font-size="11.5" fill="#6f8594" letter-spacing="-0.25">17</text><text x="1093.5" y="488.0" text-anchor="middle" font-size="11.5" fill="#6f8594" letter-spacing="-0.25">5.5M</text><text x="1093.5" y="507.8" text-anchor="middle" font-size="11.5" fill="#6f8594" letter-spacing="-0.25">12</text><text x="1113.0" y="524.9" text-anchor="middle" font-size="11.5" fill="#6f8594" letter-spacing="-0.25">14</text><text x="1131.3" y="493.9" text-anchor="middle" font-size="11.5" fill="#6f8594" letter-spacing="-0.25">4.8M</text><text x="1149.0" y="521.3" text-anchor="middle" font-size="11.5" fill="#6f8594" letter-spacing="-0.25">12</text><text x="1150.5" y="535.2" text-anchor="middle" font-size="11.5" fill="#6f8594" letter-spacing="-0.25">12</text><text x="1169.0" y="504.2" text-anchor="middle" font-size="11.5" fill="#6f8594" letter-spacing="-0.25">3.8M</text><text x="1170.2" y="532.2" text-anchor="middle" font-size="11.5" fill="#6f8594" letter-spacing="-0.25">10</text><text x="1169.0" y="551.4" text-anchor="middle" font-size="11.5" fill="#6f8594" letter-spacing="-0.25">9</text><text x="1207.1" y="541.1" text-anchor="middle" font-size="11.5" fill="#6f8594" letter-spacing="-0.25">11</text><text x="1207.1" y="499.8" text-anchor="middle" font-size="11.5" fill="#6f8594" letter-spacing="-0.25">4.3M</text><text x="1226.0" y="524.9" text-anchor="middle" font-size="11.5" fill="#6f8594" letter-spacing="-0.25">14</text><text x="1244.0" y="502.2" text-anchor="middle" font-size="11.5" fill="#6f8594" letter-spacing="-0.25">4.0M</text><text x="1244.0" y="550.5" text-anchor="middle" font-size="11.5" fill="#6f8594" letter-spacing="-0.25">9</text><text x="1264.0" y="517.5" text-anchor="middle" font-size="11.5" fill="#6f8594" letter-spacing="-0.25">10</text><text x="1300.8" y="511.3" text-anchor="middle" font-size="11.5" fill="#6f8594" letter-spacing="-0.25">14</text><text x="1300.8" y="535.6" text-anchor="middle" font-size="11.5" fill="#6f8594" letter-spacing="-0.25">12</text><text x="1288.3" y="491.5" text-anchor="middle" font-size="11.5" letter-spacing="-0.45" fill="#345f78">5,409,813</text><text x="183.5" y="405.6" text-anchor="end" font-size="11.5" fill="#7f97a7">15M</text><text x="183.5" y="456.3" text-anchor="end" font-size="11.5" fill="#7f97a7">10M</text><text x="183.5" y="506.9" text-anchor="end" font-size="11.5" fill="#7f97a7">5M</text><text x="183.5" y="557.6" text-anchor="end" font-size="11.5" fill="#7f97a7">0M</text><text x="1326" y="375.0" font-size="11.5" fill="#7f97a7">40</text><text x="1326" y="427.2" font-size="11.5" fill="#7f97a7">30</text><text x="1326" y="479.4" font-size="11.5" fill="#7f97a7">20</text><text x="1326" y="531.6" font-size="11.5" fill="#7f97a7">10</text><text transform="translate(211.8,560) rotate(-90)" text-anchor="end" font-size="11" fill="#7f97a7">(Blank)</text><text transform="translate(230.7,560) rotate(-90)" text-anchor="end" font-size="11" fill="#7f97a7">July</text><text transform="translate(249.5,560) rotate(-90)" text-anchor="end" font-size="11" fill="#7f97a7">August</text><text transform="translate(268.4,560) rotate(-90)" text-anchor="end" font-size="11" fill="#7f97a7">September</text><text transform="translate(287.2,560) rotate(-90)" text-anchor="end" font-size="11" fill="#7f97a7">October</text><text transform="translate(306.1,560) rotate(-90)" text-anchor="end" font-size="11" fill="#7f97a7">November</text><text transform="translate(324.9,560) rotate(-90)" text-anchor="end" font-size="11" fill="#7f97a7">December</text><text transform="translate(343.8,560) rotate(-90)" text-anchor="end" font-size="11" fill="#7f97a7">January</text><text transform="translate(362.6,560) rotate(-90)" text-anchor="end" font-size="11" fill="#7f97a7">February</text><text transform="translate(381.5,560) rotate(-90)" text-anchor="end" font-size="11" fill="#7f97a7">March</text><text transform="translate(400.4,560) rotate(-90)" text-anchor="end" font-size="11" fill="#7f97a7">April</text><text transform="translate(419.2,560) rotate(-90)" text-anchor="end" font-size="11" fill="#7f97a7">May</text><text transform="translate(438.1,560) rotate(-90)" text-anchor="end" font-size="11" fill="#7f97a7">June</text><text transform="translate(456.9,560) rotate(-90)" text-anchor="end" font-size="11" fill="#7f97a7">July</text><text transform="translate(475.8,560) rotate(-90)" text-anchor="end" font-size="11" fill="#7f97a7">August</text><text transform="translate(494.6,560) rotate(-90)" text-anchor="end" font-size="11" fill="#7f97a7">September</text><text transform="translate(513.5,560) rotate(-90)" text-anchor="end" font-size="11" fill="#7f97a7">October</text><text transform="translate(532.3,560) rotate(-90)" text-anchor="end" font-size="11" fill="#7f97a7">November</text><text transform="translate(551.2,560) rotate(-90)" text-anchor="end" font-size="11" fill="#7f97a7">December</text><text transform="translate(570.0,560) rotate(-90)" text-anchor="end" font-size="11" fill="#7f97a7">January</text><text transform="translate(588.9,560) rotate(-90)" text-anchor="end" font-size="11" fill="#7f97a7">February</text><text transform="translate(607.8,560) rotate(-90)" text-anchor="end" font-size="11" fill="#7f97a7">March</text><text transform="translate(626.6,560) rotate(-90)" text-anchor="end" font-size="11" fill="#7f97a7">April</text><text transform="translate(645.5,560) rotate(-90)" text-anchor="end" font-size="11" fill="#7f97a7">May</text><text transform="translate(664.3,560) rotate(-90)" text-anchor="end" font-size="11" fill="#7f97a7">June</text><text transform="translate(683.2,560) rotate(-90)" text-anchor="end" font-size="11" fill="#7f97a7">July</text><text transform="translate(702.0,560) rotate(-90)" text-anchor="end" font-size="11" fill="#7f97a7">August</text><text transform="translate(720.9,560) rotate(-90)" text-anchor="end" font-size="11" fill="#7f97a7">September</text><text transform="translate(739.7,560) rotate(-90)" text-anchor="end" font-size="11" fill="#7f97a7">October</text><text transform="translate(758.6,560) rotate(-90)" text-anchor="end" font-size="11" fill="#7f97a7">November</text><text transform="translate(777.5,560) rotate(-90)" text-anchor="end" font-size="11" fill="#7f97a7">December</text><text transform="translate(796.3,560) rotate(-90)" text-anchor="end" font-size="11" fill="#7f97a7">January</text><text transform="translate(815.2,560) rotate(-90)" text-anchor="end" font-size="11" fill="#7f97a7">February</text><text transform="translate(834.0,560) rotate(-90)" text-anchor="end" font-size="11" fill="#7f97a7">March</text><text transform="translate(852.9,560) rotate(-90)" text-anchor="end" font-size="11" fill="#7f97a7">April</text><text transform="translate(871.7,560) rotate(-90)" text-anchor="end" font-size="11" fill="#7f97a7">May</text><text transform="translate(890.6,560) rotate(-90)" text-anchor="end" font-size="11" fill="#7f97a7">June</text><text transform="translate(909.4,560) rotate(-90)" text-anchor="end" font-size="11" fill="#7f97a7">July</text><text transform="translate(928.3,560) rotate(-90)" text-anchor="end" font-size="11" fill="#7f97a7">August</text><text transform="translate(947.1,560) rotate(-90)" text-anchor="end" font-size="11" fill="#7f97a7">September</text><text transform="translate(966.0,560) rotate(-90)" text-anchor="end" font-size="11" fill="#7f97a7">October</text><text transform="translate(984.9,560) rotate(-90)" text-anchor="end" font-size="11" fill="#7f97a7">November</text><text transform="translate(1003.7,560) rotate(-90)" text-anchor="end" font-size="11" fill="#7f97a7">December</text><text transform="translate(1022.6,560) rotate(-90)" text-anchor="end" font-size="11" fill="#7f97a7">January</text><text transform="translate(1041.4,560) rotate(-90)" text-anchor="end" font-size="11" fill="#7f97a7">February</text><text transform="translate(1060.3,560) rotate(-90)" text-anchor="end" font-size="11" fill="#7f97a7">March</text><text transform="translate(1079.1,560) rotate(-90)" text-anchor="end" font-size="11" fill="#7f97a7">April</text><text transform="translate(1098.0,560) rotate(-90)" text-anchor="end" font-size="11" fill="#7f97a7">May</text><text transform="translate(1116.8,560) rotate(-90)" text-anchor="end" font-size="11" fill="#7f97a7">June</text><text transform="translate(1135.7,560) rotate(-90)" text-anchor="end" font-size="11" fill="#7f97a7">July</text><text transform="translate(1154.5,560) rotate(-90)" text-anchor="end" font-size="11" fill="#7f97a7">August</text><text transform="translate(1173.4,560) rotate(-90)" text-anchor="end" font-size="11" fill="#7f97a7">September</text><text transform="translate(1192.3,560) rotate(-90)" text-anchor="end" font-size="11" fill="#7f97a7">October</text><text transform="translate(1211.1,560) rotate(-90)" text-anchor="end" font-size="11" fill="#7f97a7">November</text><text transform="translate(1230.0,560) rotate(-90)" text-anchor="end" font-size="11" fill="#7f97a7">December</text><text transform="translate(1248.8,560) rotate(-90)" text-anchor="end" font-size="11" fill="#7f97a7">January</text><text transform="translate(1267.7,560) rotate(-90)" text-anchor="end" font-size="11" fill="#7f97a7">February</text><text transform="translate(1286.5,560) rotate(-90)" text-anchor="end" font-size="11" fill="#7f97a7">March</text><text transform="translate(1305.4,560) rotate(-90)" text-anchor="end" font-size="11" fill="#7f97a7">April</text><line x1="198.4" y1="555" x2="198.4" y2="638" stroke="#d3dbe1" stroke-width="1" stroke-dasharray="1.5 3.5"/><line x1="217.2" y1="555" x2="217.2" y2="638" stroke="#d3dbe1" stroke-width="1" stroke-dasharray="1.5 3.5"/><line x1="330.4" y1="555" x2="330.4" y2="638" stroke="#d3dbe1" stroke-width="1" stroke-dasharray="1.5 3.5"/><line x1="556.6" y1="555" x2="556.6" y2="638" stroke="#d3dbe1" stroke-width="1" stroke-dasharray="1.5 3.5"/><line x1="782.9" y1="555" x2="782.9" y2="638" stroke="#d3dbe1" stroke-width="1" stroke-dasharray="1.5 3.5"/><line x1="1009.1" y1="555" x2="1009.1" y2="638" stroke="#d3dbe1" stroke-width="1" stroke-dasharray="1.5 3.5"/><line x1="1235.4" y1="555" x2="1235.4" y2="638" stroke="#d3dbe1" stroke-width="1" stroke-dasharray="1.5 3.5"/><line x1="1310.8" y1="555" x2="1310.8" y2="638" stroke="#d3dbe1" stroke-width="1" stroke-dasharray="1.5 3.5"/><text x="202.4" y="631" text-anchor="start" font-size="11.5" fill="#7f97a7">(...</text><text x="273.8" y="631" text-anchor="middle" font-size="11.5" fill="#7f97a7">2020</text><text x="443.5" y="631" text-anchor="middle" font-size="11.5" fill="#7f97a7">2021</text><text x="669.7" y="631" text-anchor="middle" font-size="11.5" fill="#7f97a7">2022</text><text x="896.0" y="631" text-anchor="middle" font-size="11.5" fill="#7f97a7">2023</text><text x="1122.3" y="631" text-anchor="middle" font-size="11.5" fill="#7f97a7">2024</text><text x="1273.1" y="631" text-anchor="middle" font-size="11.5" fill="#7f97a7">2025</text><circle cx="638.4" cy="658" r="4.6" fill="#87a5b7"/><text x="646" y="662.2" font-size="11.2" fill="#7f97a7" letter-spacing="-0.35">Sum of SALES_PRICE</text><line x1="761" y1="658" x2="791" y2="658" stroke="#2a6282" stroke-width="2.5"/><text x="793.5" y="662.2" font-size="12" fill="#7f97a7">Count of Lot</text></svg>
</body></html>
